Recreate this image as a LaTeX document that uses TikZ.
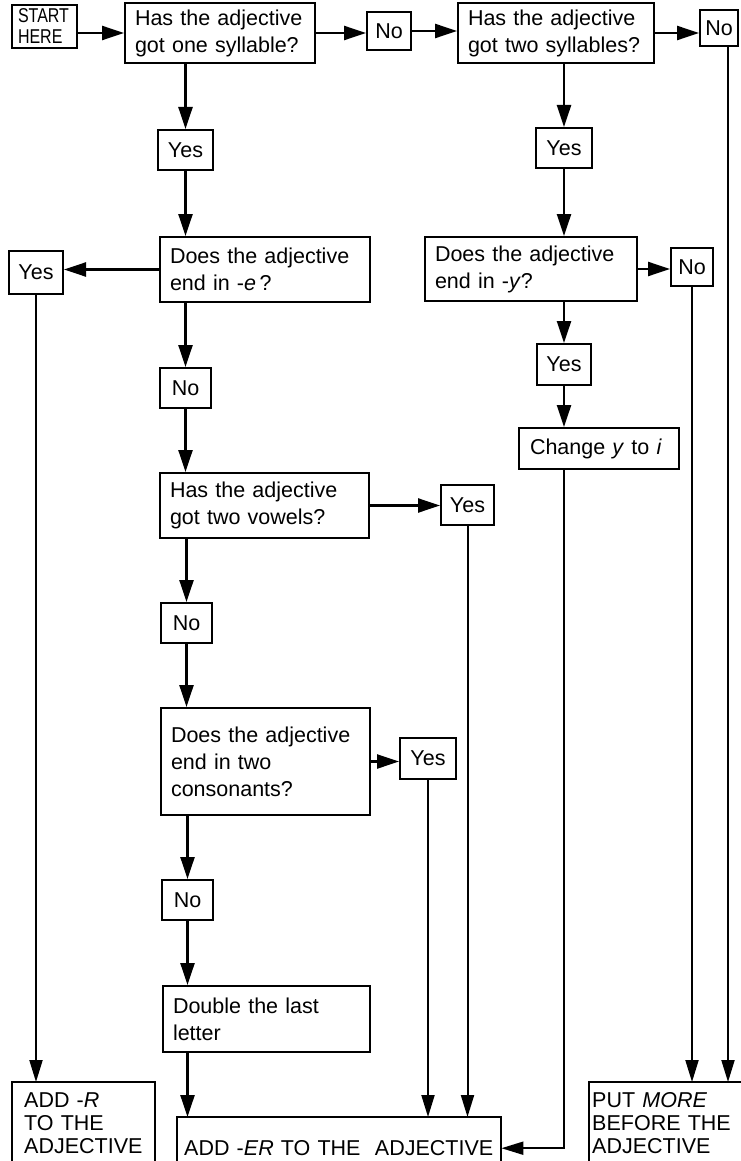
\documentclass[tikz,border=0pt]{standalone}
\usepackage{fontspec}
\setmainfont{Liberation Sans}
\newfontfamily\condfont[FakeStretch=0.8]{Liberation Sans}
\usetikzlibrary{arrows.meta,calc}
\begin{document}
\begin{tikzpicture}[x=1pt,y=-1pt,
  base/.style={font=\fontsize{21.5}{27}\selectfont},
  qbox/.style={base, draw, line width=2pt, inner xsep=10pt, inner ysep=3pt, align=left},
  sbox/.style={base, draw, line width=2pt, inner sep=0pt},
  btext/.style={font=\fontsize{21.5}{23}\selectfont, align=left, inner ysep=10pt},
  arr/.style={line width=2.4pt, -{Triangle[length=22pt,width=14pt]}},
  larr/.style={line width=2pt, -{Triangle[length=22pt,width=13pt]}},
  outline/.style={line width=2pt}]
\useasboundingbox (0,0) rectangle (740,1161);

% decision and step boxes
\node[qbox, font=\condfont\fontsize{20}{21}\selectfont, inner xsep=6pt, inner ysep=2pt, text width=53pt, minimum height=43pt] (start) at (44.5,26.5) {START\\HERE};
\node[qbox, text width=170pt, minimum height=60pt] (q1) at (220,33) {Has the adjective\\got one syllable?};
\node[sbox, minimum width=44pt, minimum height=38pt] (no1) at (389,31) {No};
\node[qbox, text width=176pt, minimum height=60pt] (q2) at (556,33) {Has the adjective\\got two syllables?};
\node[sbox, minimum width=38pt, minimum height=36pt] (no2) at (719,28) {No};
\node[sbox, minimum width=55pt, minimum height=40pt] (yes1) at (185.5,150) {Yes};
\node[sbox, minimum width=56pt, minimum height=40pt] (yes2) at (564,148) {Yes};
\node[qbox, text width=190pt, minimum height=65pt] (q3) at (265,269.5) {Does the adjective\\end in -\textit{e}\,?};
\node[sbox, minimum width=54pt, minimum height=43pt] (yesL) at (36,272.5) {Yes};
\node[qbox, text width=192pt, minimum height=64pt] (q6) at (531,269) {Does the adjective\\end in -\textit{y}?};
\node[sbox, minimum width=42pt, minimum height=38pt] (no3) at (692,267) {No};
\node[sbox, minimum width=51pt, minimum height=40pt] (noA) at (185.5,388) {No};
\node[sbox, minimum width=54pt, minimum height=41pt] (yes3) at (564,364.5) {Yes};
\node[qbox, inner xsep=11pt, text width=138pt, minimum height=41pt] (change) at (599,448.5) {Change \textit{y} to \textit{i}};
\node[qbox, text width=189pt, minimum height=65pt] (q4) at (264.5,505.5) {Has the adjective\\got two vowels?};
\node[sbox, minimum width=53pt, minimum height=40pt] (yesV) at (467.5,505) {Yes};
\node[sbox, minimum width=51pt, minimum height=40pt] (noB) at (186.5,623) {No};
\node[qbox, text width=189pt, minimum height=107pt] (q5) at (265.5,761.5) {Does the adjective\\end in two\\consonants?};
\node[sbox, minimum width=56pt, minimum height=41pt] (yesC) at (428,758.5) {Yes};
\node[sbox, minimum width=51pt, minimum height=40pt] (noC) at (187.5,900) {No};
\node[qbox, text width=187pt, minimum height=66pt] (double) at (266.5,1019) {Double the last\\letter};

% result boxes (cut by the lower edge)
\node[btext, anchor=north west, inner xsep=12pt, text width=119pt] (addr) at (12,1082) {ADD -\textit{R}\\TO THE\\ADJECTIVE};
\draw[outline] ([yshift=-40pt]addr.south west) -- (addr.north west) -- (addr.north east) -- ([yshift=-40pt]addr.south east);
\node[btext, anchor=north west, inner xsep=7pt, text width=310pt, minimum height=62pt] (adder) at (177,1117) {ADD -\textit{ER} TO THE\ \ ADJECTIVE};
\draw[outline] ([yshift=-40pt]adder.south west) -- (adder.north west) -- (adder.north east) -- ([yshift=-40pt]adder.south east);
\node[btext, anchor=north west, inner xsep=3pt, text width=160pt] (putmore) at (589,1082) {PUT \textit{MORE}\\BEFORE THE\\ADJECTIVE};
\draw[outline] ([yshift=-40pt]putmore.south west) -- (putmore.north west) -- (putmore.north east) -- ([yshift=-40pt]putmore.south east);

% connectors
\draw[arr] (start.east |- q1.west) -- (q1.west);
\draw[arr] (q1.east) -- (q1.east -| no1.west);
\draw[arr] (no1.east) -- (no1.east -| q2.west);
\draw[arr] (q2.east) -- (q2.east -| no2.west);
\draw[arr] (yes1.north |- q1.south) -- (yes1.north);
\draw[arr] (yes1.south) -- (yes1.south |- q3.north);
\draw[arr] (yes2.north |- q2.south) -- (yes2.north);
\draw[arr] (yes2.south) -- (yes2.south |- q6.north);
\draw[arr] (q3.west) -- (q3.west -| yesL.east);
\draw[arr] (q6.east) -- (q6.east -| no3.west);
\draw[arr] (noA.north |- q3.south) -- (noA.north);
\draw[arr] (noA.south) -- (noA.south |- q4.north);
\draw[arr] (yes3.north |- q6.south) -- (yes3.north);
\draw[arr] (yes3.south) -- (yes3.south |- change.north);
\draw[arr] (q4.east) -- (q4.east -| yesV.west);
\draw[arr] (noB.north |- q4.south) -- (noB.north);
\draw[arr] (noB.south) -- (noB.south |- q5.north);
\draw[arr] (q5.east) -- (q5.east -| yesC.west);
\draw[arr] (noC.north |- q5.south) -- (noC.north);
\draw[arr] (noC.south) -- (noC.south |- double.north);
\draw[arr] (double.south -| noC.south) -- (noC.south |- adder.north);
\draw[larr] (yesC.south) -- (yesC.south |- adder.north);
\draw[larr] (yesV.south) -- (yesV.south |- adder.north);
\draw[larr] (yes3.south |- change.south) -- (yes3.south |- adder.east) -- (adder.east);
\draw[larr] (yesL.south) -- (yesL.south |- addr.north);
\draw[larr] (no3.south) -- (no3.south |- putmore.north);
\draw[larr] ([xshift=9pt]no2.south) -- ([xshift=9pt]no2.south |- putmore.north);
\end{tikzpicture}
\end{document}
